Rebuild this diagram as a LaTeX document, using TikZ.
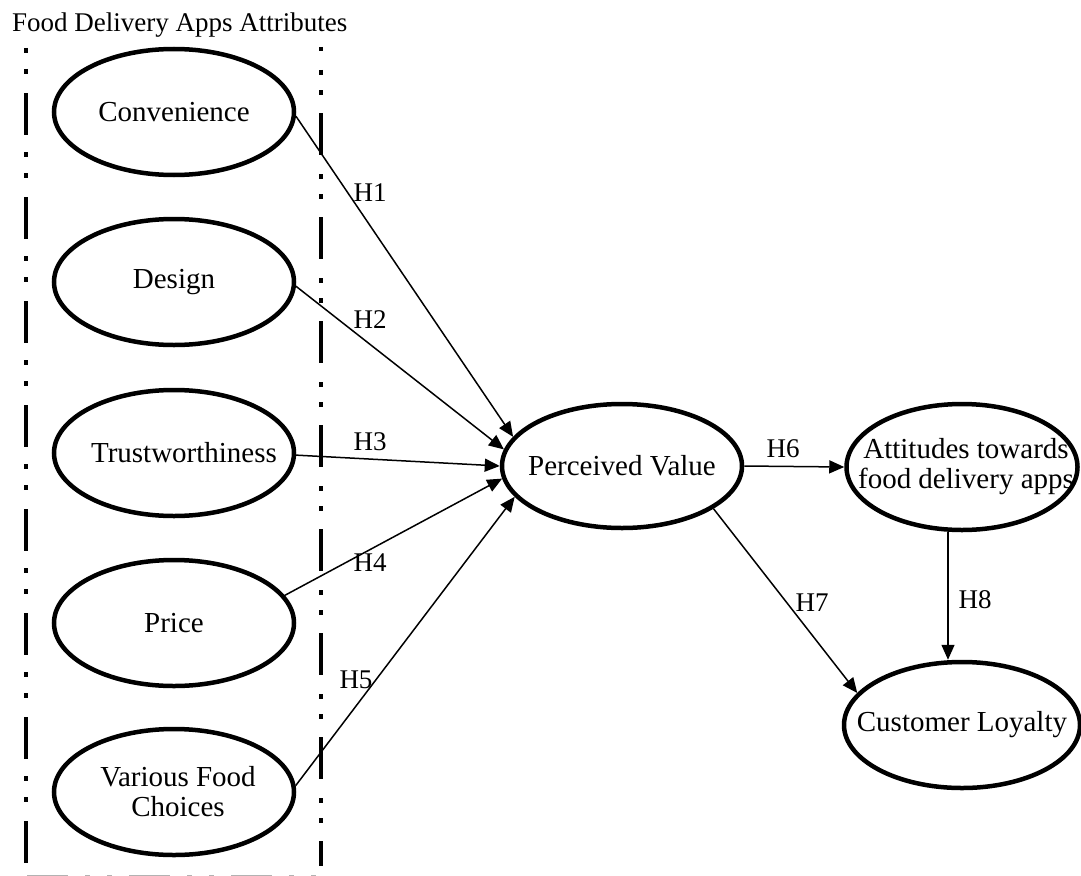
\documentclass[tikz,border=0pt]{standalone}
\usepackage{fontspec}
\setmainfont{Liberation Serif}
\usetikzlibrary{shapes.geometric,arrows.meta}
\newcommand{\zw}[1]{\makebox[0pt]{#1}}
\begin{document}
\begin{tikzpicture}[x=1pt,y=-1pt,
  construct/.style={ellipse,draw,line width=4.5pt,inner sep=0pt,align=center,
     minimum width=240pt,minimum height=126pt,font=\fontsize{29}{30}\selectfont},
  conn/.style={line width=1.5pt,-{Triangle[length=15pt,width=13pt]}},
  hlabel/.style={font=\fontsize{27}{30}\selectfont,inner sep=0pt},
  vline/.style={line width=4pt,line cap=butt}]
\useasboundingbox (0,0) rectangle (1081,875);
% title
\node[anchor=base west,inner sep=0pt,font=\fontsize{27}{30}\selectfont] (title) at (12,31.5) {Food Delivery Apps Attributes};
% dash-dot frame lines
\draw[vline,dash pattern=on 42pt off 17pt on 5pt off 16pt on 5pt off 19pt,dash phase=58pt] (26,47) -- (26,866);
\draw[vline,dash pattern=on 42pt off 19pt on 5pt off 15pt on 5pt off 18pt,dash phase=38pt] (321,47) -- (321,866);
\draw[gray!60,line width=3pt,dash pattern=on 41pt off 17pt on 5pt off 17pt on 5pt off 17pt] (27,876.5) -- (320,876.5);
% constructs
\node[construct] (conv) at (174,112) {\zw{Convenience}};
\node[construct] (design) at (174,282) {\zw{Design}};
\node[construct] (trust) at (174,453) {\zw{\hspace*{20pt}Trustworthiness}};
\node[construct] (price) at (174,623) {\zw{Price}};
\node[construct] (various) at (174,792) {\zw{\hspace*{8pt}Various Food}\\\zw{\hspace*{8pt}Choices}};
\node[construct,minimum height=124pt] (pv) at (622,466) {\zw{Perceived Value}};
\node[construct,minimum width=231pt] (att) at (962,467) {\zw{\hspace*{8pt}Attitudes towards}\\\zw{\hspace*{8pt}food delivery apps}};
\node[construct,minimum width=236pt] (cl) at (962,725) {\zw{Customer Loyalty}};
% connectors
\draw[conn] (conv.358) -- (pv.165);
\draw[conn] (design.358) -- (pv.172);
\draw[conn] (trust.359) -- (pv.west);
\draw[conn] (price.14) -- (pv.186);
\draw[conn] (various.3) -- (pv.196);
\draw[conn] (pv.335) -- (cl.163);
\draw[conn] (pv.east) -- (att.west);
\draw[conn] ([xshift=-14pt]att.south) -- ([xshift=-14pt]cl.north);
% labels
\node[hlabel] (h1) at (370,193) {H1};
\node[hlabel] (h2) at (370,320) {H2};
\node[hlabel] (h3) at (370,442) {H3};
\node[hlabel] (h4) at (370,563) {H4};
\node[hlabel] (h5) at (356,680) {H5};
\node[hlabel] (h6) at (783,449) {H6};
\node[hlabel] (h7) at (812,603) {H7};
\node[hlabel] (h8) at (975,600) {H8};
\end{tikzpicture}
\end{document}
